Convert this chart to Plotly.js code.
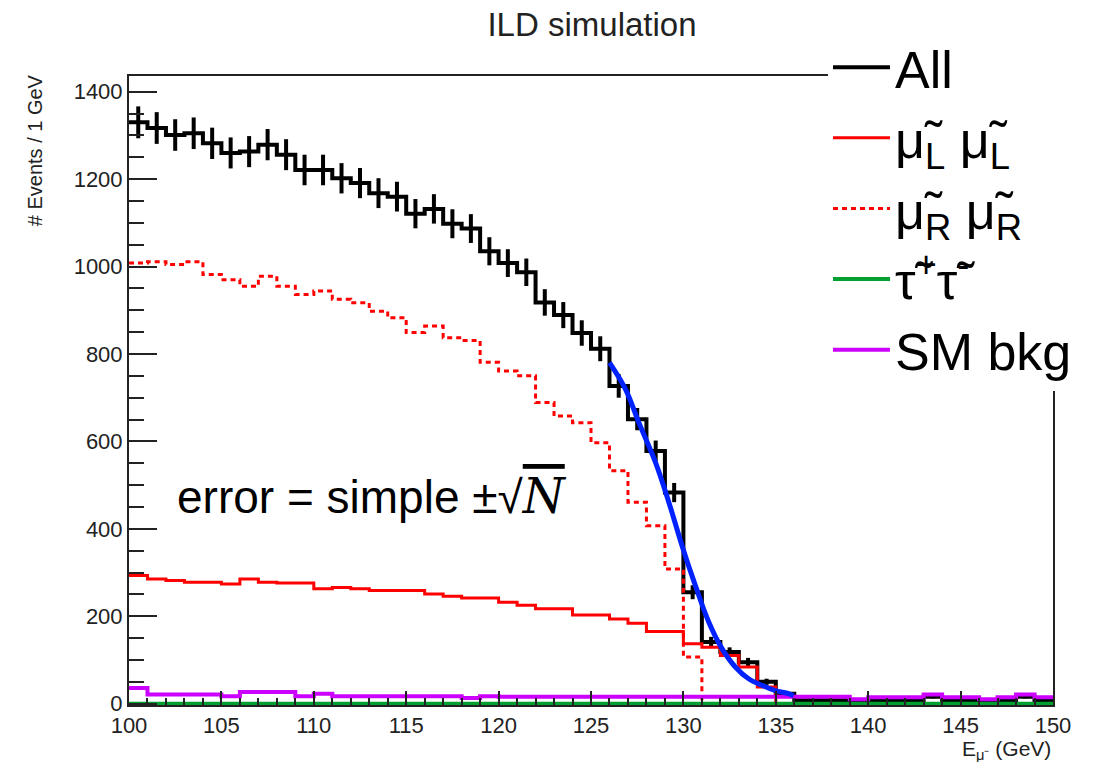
<!DOCTYPE html>
<html><head><meta charset="utf-8">
<script src="https://cdn.plot.ly/plotly-3.0.1.min.js"></script>
<style>html,body{margin:0;padding:0;background:#fff}#chart{width:1117px;height:762px}</style>
</head><body><div id="chart"></div>
<script>
// 1 GeV bins from 100 to 150 GeV (edges)
const binEdges = [100,101,102,103,104,105,106,107,108,109,110,111,112,113,114,115,116,117,118,119,120,121,122,123,124,125,126,127,128,129,130,131,132,133,134,135,136,137,138,139,140,141,142,143,144,145,146,147,148,149,150];
// Events per bin
const allEvents = [1330,1317,1301,1305,1282,1260,1263,1279,1256,1221,1221,1202,1191,1168,1160,1121,1132,1098,1087,1035,1008,987,918,889,848,812,727,651,578,483,255,141,118,95,50,23,8,8,8,8,8,8,8,16,8,8,8,8,16,8];
const smuonLL  = [293,285,282,278,278,274,285,278,276,276,263,266,263,259,259,259,251,246,242,242,232,225,217,217,203,203,194,184,165,165,137,129,110,84,38,0,0,0,0,0,0,0,0,0,0,0,0,0,0,0];
const smuonRR  = [1008,1011,1005,1011,982,970,955,978,955,936,944,925,917,898,883,849,864,837,831,781,761,750,689,658,643,597,533,461,407,308,107,0,0,0,0,0,0,0,0,0,0,0,0,0,0,0,0,0,0,0];
const stauStau = [0,0,0,0,0,0,0,0,0,0,0,0,0,0,0,0,0,0,0,0,0,0,0,0,0,0,0,0,0,0,0,0,0,0,0,0,0,0,0,0,0,0,0,0,0,0,0,0,0,0];
const smBkg    = [36,21,21,21,21,17,27,27,27,17,23,17,17,17,17,17,17,17,13,17,16,16,16,16,16,16,16,16,16,16,16,16,16,16,16,16,16,16,16,10,15,15,15,21,15,15,10,15,21,15];
// fitted edge curve
const fitE = [126.0,126.87,127.59,128.49,129.21,129.93,130.65,131.37,132.09,132.81,133.53,134.25,134.97,135.69,135.96];
const fitN = [780,719,643,552,461,361,270,187,126,84,57,42,30,23,18];

const stepY = v => v.concat([v[v.length-1]]);
const centers = binEdges.slice(0,-1).map((e,i)=>(e+binEdges[i+1])/2);
const errs = allEvents.map(Math.sqrt);

const mu = 'μ\u0303';
const tau = 'τ\u0303';

const traces = [
  {x: binEdges, y: stepY(allEvents), mode:'lines', line:{shape:'hv', color:'#000', width:4}, name:'All', hoverinfo:'skip'},
  {x: centers, y: allEvents, mode:'markers', marker:{size:1, color:'#000'}, showlegend:false, hoverinfo:'skip',
   error_y:{type:'data', array: errs, visible:true, width:0, thickness:4, color:'#000'}},
  {x: binEdges, y: stepY(smuonLL), mode:'lines', line:{shape:'hv', color:'#ff0000', width:3}, name: mu+'<sub>L</sub> '+mu+'<sub>L</sub>'},
  {x: binEdges, y: stepY(smuonRR), mode:'lines', line:{shape:'hv', color:'#ff0000', width:3, dash:'5px,4px'}, name: mu+'<sub>R</sub> '+mu+'<sub>R</sub>'},
  {x: binEdges, y: stepY(stauStau), mode:'lines', line:{shape:'hv', color:'#00a030', width:4}, name: tau+'<sup>+</sup>'+tau+'<sup>-</sup>'},
  {x: binEdges, y: stepY(smBkg), mode:'lines', line:{shape:'hv', color:'#cc00ff', width:4}, name:'SM bkg'},
  {x: fitE, y: fitN, mode:'lines', line:{shape:'spline', color:'#0022ff', width:5}, showlegend:false, hoverinfo:'skip'}
];

const axisCommon = {showline:true, linecolor:'#222', linewidth:2, mirror:true, showgrid:false, zeroline:false,
  ticks:'inside', tickcolor:'#222', tickwidth:2, tickfont:{family:'Liberation Sans, Arial', size:22, color:'#222'}};

const layout = {
  width:1117, height:762,
  margin:{l:129, r:64, t:76, b:57},
  paper_bgcolor:'#fff', plot_bgcolor:'#fff',
  title:{text:'ILD simulation', font:{family:'Liberation Sans, Arial', size:33, color:'#222'}, x:0.53, xanchor:'center', y:0.968, yanchor:'middle'},
  xaxis:Object.assign({}, axisCommon, {range:[100,150], tick0:100, dtick:5, ticklen:14,
    minor:{ticks:'inside', dtick:1, ticklen:7, tickwidth:2, tickcolor:'#222'}}),
  yaxis:Object.assign({}, axisCommon, {range:[-3,1436], tick0:0, dtick:200, ticklen:28,
    minor:{ticks:'inside', dtick:50, ticklen:15, tickwidth:2, tickcolor:'#222'}}),
  showlegend:true,
  legend:{x:0.7565, y:1.078, xanchor:'left', yanchor:'top', bgcolor:'#fff', borderwidth:0,
    font:{family:'Liberation Sans, Arial', size:52, color:'#000'}, itemwidth:57, tracegroupgap:0},
  annotations:[
    {xref:'paper', yref:'paper', x:-0.1017, y:0.882, text:'# Events / 1 GeV', textangle:-90, showarrow:false,
     xanchor:'center', yanchor:'middle', font:{family:'Liberation Sans, Arial', size:20, color:'#222'}},
    {xref:'paper', yref:'paper', x:1, y:-0.072, text:'E<sub>μ⁻</sub> (GeV)', showarrow:false,
     xanchor:'right', yanchor:'middle', font:{family:'Liberation Sans, Arial', size:21, color:'#222'}},
    {xref:'x', yref:'y', x:102.5, y:475, xanchor:'left', yanchor:'middle', showarrow:false,
     text:'error = simple ±√<span style="font-family:\'DejaVu Serif\';font-style:italic;font-size:48px;text-decoration:overline">N</span>',
     font:{family:'Liberation Sans, Arial', size:46, color:'#000'}}
  ]
};

Plotly.newPlot('chart', traces, layout, {displayModeBar:false, staticPlot:true});
</script></body></html>
